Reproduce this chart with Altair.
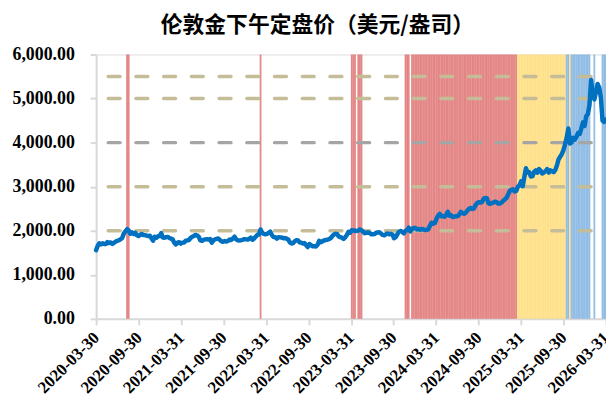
import altair as alt
import pandas as pd

TITLE = "伦敦金下午定盘价（美元/盎司）"

# weekly (Monday) London PM fix values, USD/oz
p2020 = [1560, 1660, 1715, 1690, 1715, 1700, 1700, 1745, 1720, 1735,
         1700, 1725, 1755, 1770, 1785, 1805, 1835, 1935, 1985, 2035,
         2005, 1930, 1965, 1925, 1955, 1900, 1880, 1905, 1925, 1905,
         1900, 1890, 1880, 1885, 1830, 1775, 1865, 1840, 1875, 1880]
p2021 = [1945, 1845, 1840, 1855, 1860, 1835, 1820, 1805, 1730, 1690,
         1730, 1740, 1705, 1730, 1735, 1775, 1780, 1790, 1835, 1865,
         1880, 1905, 1895, 1865, 1780, 1770, 1795, 1805, 1810, 1800,
         1810, 1730, 1785, 1805, 1815, 1825, 1790, 1760, 1750, 1765,
         1755, 1770, 1800, 1790, 1825, 1865, 1805, 1785, 1780, 1785,
         1795, 1810]
p2022 = [1805, 1800, 1815, 1845, 1795, 1820, 1865, 1905, 1915, 2030,
         1955, 1930, 1920, 1930, 1955, 1980, 1900, 1860, 1855, 1820,
         1855, 1850, 1845, 1830, 1835, 1820, 1800, 1735, 1710, 1720,
         1765, 1785, 1780, 1735, 1730, 1710, 1720, 1675, 1630, 1700,
         1670, 1650, 1650, 1640, 1680, 1770, 1740, 1760, 1780, 1790,
         1795, 1810]
p2023 = [1830, 1875, 1915, 1930, 1925, 1870, 1855, 1840, 1815, 1850,
         1905, 1975, 1955, 2010, 2005, 2000, 1995, 2005, 2030, 2010,
         1975, 1945, 1955, 1960, 1950, 1920, 1920, 1925, 1955, 1960,
         1965, 1935, 1905, 1895, 1920, 1940, 1920, 1930, 1915, 1830,
         1855, 1920, 1975, 1995, 1975, 1940, 2000, 2015, 2070, 1985,
         2030, 2065]
p2024 = [2065, 2030, 2040, 2020, 2040, 2030, 2015, 2020, 2035, 2115,
         2180, 2160, 2175, 2265, 2340, 2385, 2330, 2330, 2320, 2360,
         2430, 2340, 2350, 2310, 2320, 2330, 2330, 2370, 2430, 2400,
         2385, 2410, 2455, 2500, 2515, 2495, 2505, 2580, 2630, 2650,
         2640, 2650, 2725, 2745, 2740, 2620, 2610, 2630, 2640, 2660,
         2650, 2615, 2620]
p2025 = [2640, 2680, 2710, 2745, 2820, 2900, 2930, 2940, 2890, 2905,
         3000, 3025, 3120, 3010, 3220, 3420, 3320, 3330, 3230, 3240,
         3340, 3370, 3320, 3400, 3360, 3300, 3320, 3350, 3400, 3320,
         3370, 3350, 3330, 3380, 3480, 3620, 3680, 3740, 3830, 3960,
         4110, 4320, 3980, 4000, 4110, 4070, 4130, 4220, 4200, 4320,
         4460, 4380]
p2026 = [4600, 4650, 4850, 5420, 5100, 4980, 5150, 5330, 5250, 5020,
         4500, 4470, 4520]

series_starts = ["2020-03-30", "2021-01-04", "2022-01-03", "2023-01-02",
                 "2024-01-01", "2025-01-06", "2026-01-05"]
series_values = [p2020, p2021, p2022, p2023, p2024, p2025, p2026]

tick_labels = ["2020-03-30", "2020-09-30", "2021-03-31", "2021-09-30",
               "2022-03-31", "2022-09-30", "2023-03-31", "2023-09-30",
               "2024-03-31", "2024-09-30", "2025-03-31", "2025-09-30",
               "2026-03-31"]
y_ticks = [0, 1000, 2000, 3000, 4000, 5000, 6000]

band_edges = [2000, 3000, 4000, 5000]
band_names = ["2000-3000", "3000-4000", "4000-5000"]
band_colors = ["#DF7272", "#FFDC78", "#7FB2E0"]

ref_levels = [2000, 3000, 4000, 5000, 5500]
ref_colors = ["#C4BD97", "#C4BD97", "#A5A5A5", "#C4BD97", "#C4BD97"]
ref_start = "2020-05-21"
ref_end = "2026-01-26"

# ---- build tables ----
rows = []
for start, vals in zip(series_starts, series_values):
    dates = pd.date_range(start, periods=len(vals), freq="7D")
    for d, v in zip(dates, vals):
        rows.append({"date": d.strftime("%Y-%m-%d"), "price": v})
df = pd.DataFrame(rows)


def band_of(v):
    for lo, hi, name in zip(band_edges[:-1], band_edges[1:], band_names):
        if lo <= v < hi:
            return name
    return None


df["band"] = df["price"].map(band_of)
stripes = df[df["band"].notna()].copy()

refs = pd.DataFrame({"start": ref_start, "end": ref_end,
                     "level": ref_levels, "color": ref_colors})


def dt(s):
    y, m, d = (int(t) for t in s.split("-"))
    return alt.DateTime(year=y, month=m, date=d, utc=True)


x_scale = alt.Scale(type="utc", domain=[dt(tick_labels[0]), dt(tick_labels[-1])])
y_scale = alt.Scale(domain=[0, 6000], nice=False)

FONT = "Liberation Serif"
x_axis = alt.Axis(values=[dt(s) for s in tick_labels], format="%Y-%m-%d",
                  labelAngle=-45, labelAlign="right", labelBaseline="middle",
                  labelFont=FONT, labelFontSize=17, labelFontWeight="bold",
                  labelColor="black", labelPadding=10, labelOverlap=False,
                  labelFlush=False, domainColor="#D9D9D9", domainWidth=2,
                  tickColor="#D9D9D9", tickWidth=2, tickSize=6, grid=False,
                  title=None)
y_axis = alt.Axis(values=y_ticks, format=",.2f", labelFont=FONT,
                  labelFontSize=18, labelFontWeight="bold", labelColor="black",
                  labelPadding=16, domainColor="#D9D9D9", domainWidth=2,
                  tickColor="#D9D9D9", tickWidth=2, tickSize=6, grid=False,
                  title=None)

stripe_layer = alt.Chart(stripes).mark_rule(strokeWidth=1.8, opacity=0.85).encode(
    x=alt.X("date:T", scale=x_scale, axis=x_axis),
    y=alt.YDatum(6000, scale=y_scale, axis=y_axis),
    y2=alt.Y2Datum(0),
    color=alt.Color("band:N", scale=alt.Scale(domain=band_names, range=band_colors),
                    legend=None),
)

ref_layer = alt.Chart(refs).mark_rule(strokeWidth=3.5, strokeDash=[12, 16],
                                      strokeCap="round").encode(
    x=alt.X("start:T", scale=x_scale, axis=x_axis),
    x2="end:T",
    y=alt.Y("level:Q", scale=y_scale, axis=y_axis),
    stroke=alt.Stroke("color:N", scale=None),
)

line_layer = alt.Chart(df).mark_line(color="#0070C0", strokeWidth=4.5,
                                     strokeJoin="round", strokeCap="round").encode(
    x=alt.X("date:T", scale=x_scale, axis=x_axis),
    y=alt.Y("price:Q", scale=y_scale, axis=y_axis),
)

chart = alt.layer(stripe_layer, ref_layer, line_layer).properties(
    width=515,
    height=267,
    autosize=alt.AutoSizeParams(type="none"),
    padding={"left": 89, "top": 45, "right": 0, "bottom": 84},
    title=alt.TitleParams(TITLE, font="Noto Sans CJK SC", fontSize=22,
                          fontWeight="bold", color="black", anchor="middle",
                          frame="group", dx=-34, dy=23, offset=10,
                          baseline="bottom"),
).configure_view(stroke=None).configure(background="white")

chart.save("out.html", embed_options={"renderer": "svg", "actions": False})
